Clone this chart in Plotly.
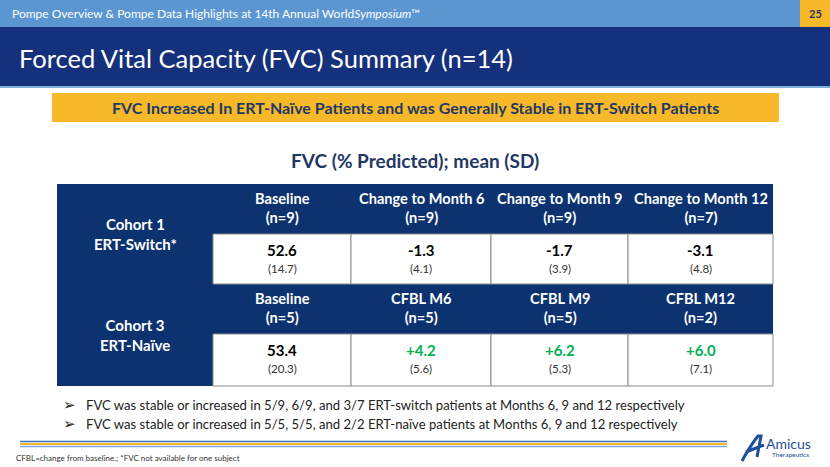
import plotly.graph_objects as go

# ---------------- data ----------------
slide_header = "Pompe Overview &amp; Pompe Data Highlights at 14th Annual World<i>Symposium</i>™"
page_number = "25"
slide_title = "Forced Vital Capacity (FVC) Summary (n=14)"
banner_text = "FVC Increased In ERT-Naïve Patients and was Generally Stable in ERT-Switch Patients"
table_title = "FVC (% Predicted); mean (SD)"

cohort_labels = ["Cohort 1<br>ERT-Switch*", "Cohort 3<br>ERT-Naïve"]
cohort1_headers = ["Baseline<br>(n=9)", "Change to Month 6<br>(n=9)",
                   "Change to Month 9<br>(n=9)", "Change to Month 12<br>(n=7)"]
cohort1_means = [52.6, -1.3, -1.7, -3.1]
cohort1_sd = [14.7, 4.1, 3.9, 4.8]
cohort3_headers = ["Baseline<br>(n=5)", "CFBL M6<br>(n=5)",
                   "CFBL M9<br>(n=5)", "CFBL M12<br>(n=2)"]
cohort3_means = [53.4, 4.2, 6.2, 6.0]
cohort3_sd = [20.3, 5.6, 5.3, 7.1]

bullets = [
    "FVC was stable or increased in 5/9, 6/9, and 3/7 ERT-switch patients at Months 6, 9 and 12 respectively",
    "FVC was stable or increased in 5/5, 5/5, and 2/2 ERT-naïve patients at Months 6, 9 and 12 respectively",
]
footnote = "CFBL=change from baseline.; *FVC not available for one subject"

# ---------------- styling / layout ----------------
FONT = "Lato, 'Open Sans', sans-serif"
W, H = 830, 467
LIGHT_BLUE = "#5b96d1"
TITLE_NAVY = "#15317b"
TABLE_NAVY = "#0c3270"
GOLD = "#f7b829"
TEXT_NAVY = "#1f3864"
GREEN = "#00b050"

col_edges = [57, 213, 351, 491, 628, 773]
row_edges = [184, 234, 284, 334, 386]

shapes = []
ann = []


def rect(x0, y0, x1, y1, fill, line=None, lw=0):
    shapes.append(dict(type="rect", xref="x", yref="y", x0=x0, y0=y0, x1=x1, y1=y1,
                       fillcolor=fill, line=dict(color=line or fill, width=lw), layer="below"))


def hline(x0, x1, y, color, width):
    shapes.append(dict(type="line", xref="x", yref="y", x0=x0, x1=x1, y0=y, y1=y,
                       line=dict(color=color, width=width), layer="below"))


def text(x, y, s, size, color, bold=False, anchor="center", family=FONT):
    ann.append(dict(x=x, y=y, xref="x", yref="y", text=(f"<b>{s}</b>" if bold else s),
                    showarrow=False, xanchor=anchor, yanchor="middle", align="center",
                    font=dict(family=family, size=size, color=color)))


# header bars
rect(0, 0, W, 27, LIGHT_BLUE)
rect(800, 0, W, 27, GOLD)
rect(0, 27, W, 86, TITLE_NAVY)
hline(0, W, 87, LIGHT_BLUE, 1.5)
text(10, 13, slide_header, 12, "white", anchor="left")
text(815, 13, page_number, 11, TEXT_NAVY, bold=True)
text(17, 58, slide_title, 25.5, "white", anchor="left")

# banner
rect(52, 93, 779, 122, GOLD)
text(415, 107, banner_text, 16, TEXT_NAVY, bold=True)
text(415, 160, table_title, 19, TEXT_NAVY, bold=True)

# table
rect(col_edges[0], row_edges[0], col_edges[-1], row_edges[-1], TABLE_NAVY)


def fmt(v, i):
    if i == 0:
        return f"{v:.1f}", "black"
    if v > 0:
        return f"+{v:.1f}", GREEN
    return f"{v:.1f}", "black"


for k, (headers, means, sds) in enumerate([(cohort1_headers, cohort1_means, cohort1_sd),
                                            (cohort3_headers, cohort3_means, cohort3_sd)]):
    r_head_top, r_val_top, r_val_bot = row_edges[2 * k], row_edges[2 * k + 1], row_edges[2 * k + 2]
    text((col_edges[0] + col_edges[1]) / 2, (r_head_top + r_val_bot) / 2,
         cohort_labels[k].replace("<br>", "</b><br><b>"), 15, "white", bold=True)
    for i in range(4):
        x0, x1 = col_edges[i + 1], col_edges[i + 2]
        cx = (x0 + x1) / 2
        # header
        text(cx, (r_head_top + r_val_top) / 2 - 1,
             headers[i].replace("<br>", "</b><br><b>"), 14.6, "white", bold=True)
        # value cell
        rect(x0, r_val_top, x1, r_val_bot, "white", line="#8c8c8c", lw=1)
        s, c = fmt(means[i], i)
        text(cx, r_val_top + 16, s, 15, c, bold=True)
        text(cx, r_val_top + 34, f"({sds[i]:.1f})", 11.5, "#333333")

# bullets
for j, b in enumerate(bullets):
    y = 405 + 19 * j
    text(61, y, "➢", 15, "#222222", anchor="left", family="DejaVu Sans")
    text(84, y, b, 13.1, "#222222", anchor="left")

# footer lines
hline(20, 727, 441.5, "#3f72b9", 1.5)
hline(20, 727, 444, GOLD, 2)
hline(20, 727, 446.5, "#7fa9dc", 1.5)
text(14, 458, footnote, 8, "#333333", anchor="left")

# logo (text based)
text(788, 443, "Amicus", 14, "#1d4e9a", anchor="center")
text(790, 454, "Therapeutics", 6.5, "#1d4e9a", anchor="center")
shapes.append(dict(type="path", xref="x", yref="y",
                   path="M 742 461 Q 750 446 758 436 L 761 436 L 757 457 M 746 452 L 764 445",
                   line=dict(color="#1d4e9a", width=3)))

fig = go.Figure()
fig.update_layout(
    width=W, height=H, margin=dict(l=0, r=0, t=0, b=0),
    paper_bgcolor="white", plot_bgcolor="white",
    xaxis=dict(range=[0, W], visible=False, fixedrange=True),
    yaxis=dict(range=[H, 0], visible=False, fixedrange=True),
    shapes=shapes, annotations=ann, showlegend=False,
)
fig.write_html("out.html", config={"displayModeBar": False},
               post_script="document.body.style.margin='0px';document.body.style.overflow='hidden';")
